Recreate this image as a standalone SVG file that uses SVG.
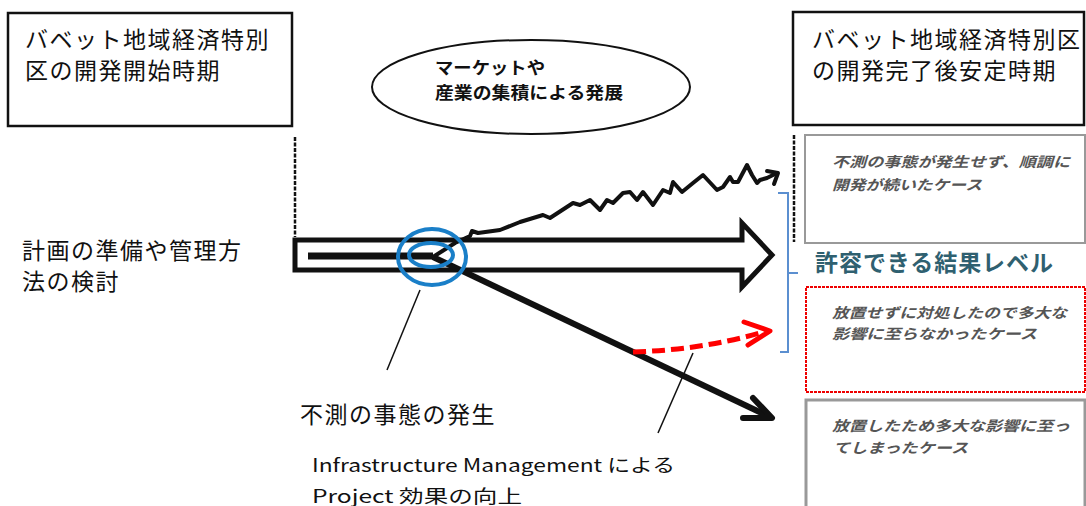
<svg xmlns="http://www.w3.org/2000/svg" width="1086" height="506" viewBox="0 0 1086 506">
<style>
.jp{font-family:"Noto Sans CJK JP","Liberation Sans",sans-serif;fill:#111}
.big{font-size:23px;letter-spacing:1.5px}
.case{font-family:"Noto Sans CJK JP","Liberation Sans",sans-serif;font-size:14px;font-weight:bold;font-style:italic;fill:#555}
.ell{font-family:"Noto Sans CJK JP","Liberation Sans",sans-serif;font-size:17px;font-weight:bold;fill:#111}
.thin{stroke:#111;stroke-width:1.5;fill:none}
</style>
<rect width="1086" height="506" fill="#fff"/>

<g id="start-box">
<rect x="8" y="13" width="284" height="113" fill="#fff" stroke="#111" stroke-width="2.5"/>
<text class="jp big" x="25" y="48">バベット地域経済特別</text>
<text class="jp big" x="25" y="79">区の開発開始時期</text>
</g>

<g id="end-box">
<rect x="793" y="12" width="291" height="113" fill="#fff" stroke="#111" stroke-width="2.5"/>
<text class="jp big" x="812" y="48">バベット地域経済特別区</text>
<text class="jp big" x="812" y="79">の開発完了後安定時期</text>
</g>

<g id="market-ellipse">
<ellipse cx="531" cy="87" rx="159" ry="47" fill="#fff" stroke="#111" stroke-width="2"/>
<text class="ell" x="435" y="74" textLength="110" lengthAdjust="spacingAndGlyphs">マーケットや</text>
<text class="ell" x="435" y="99" textLength="188" lengthAdjust="spacingAndGlyphs">産業の集積による発展</text>
</g>

<g id="plan-label">
<text class="jp big" x="22" y="259">計画の準備や管理方</text>
<text class="jp big" x="22" y="290">法の検討</text>
</g>

<g id="case-smooth">
<rect x="805" y="135" width="280" height="108" fill="#fff" stroke="#999" stroke-width="2"/>
<text class="case" x="832" y="167" textLength="238" lengthAdjust="spacingAndGlyphs">不測の事態が発生せず、順調に</text>
<text class="case" x="832" y="190" textLength="150" lengthAdjust="spacingAndGlyphs">開発が続いたケース</text>
</g>

<g id="acceptable-label">
<text x="815" y="271" font-family="Noto Sans CJK JP, Liberation Sans, sans-serif" font-size="23" font-weight="bold" fill="#2f6070" textLength="238" lengthAdjust="spacing">許容できる結果レベル</text>
</g>

<g id="case-handled">
<rect x="806" y="287" width="279" height="105" fill="#fff" stroke="#e00" stroke-width="2" stroke-dasharray="3,1"/>
<text class="case" x="832" y="318" textLength="235" lengthAdjust="spacingAndGlyphs">放置せずに対処したので多大な</text>
<text class="case" x="832" y="339" textLength="205" lengthAdjust="spacingAndGlyphs">影響に至らなかったケース</text>
</g>

<g id="case-neglected">
<rect x="806" y="400" width="279" height="110" fill="#fff" stroke="#999" stroke-width="3"/>
<text class="case" x="832" y="431" textLength="238" lengthAdjust="spacingAndGlyphs">放置したため多大な影響に至っ</text>
<text class="case" x="833" y="453" textLength="135" lengthAdjust="spacingAndGlyphs">てしまったケース</text>
</g>

<g id="event-label">
<text class="jp big" x="300" y="423" letter-spacing="2">不測の事態の発生</text>
</g>

<g id="im-label">
<text class="jp" x="312" y="472" font-size="18" textLength="363" lengthAdjust="spacingAndGlyphs">Infrastructure Management による</text>
<text class="jp" x="312" y="503" font-size="18" textLength="210" lengthAdjust="spacingAndGlyphs">Project 効果の向上</text>
</g>

<g id="connectors">
<line x1="295" y1="137" x2="295" y2="237" stroke="#111" stroke-width="2.5" stroke-dasharray="4,1.5"/>
<line x1="794" y1="135" x2="794" y2="242" stroke="#111" stroke-width="2.5" stroke-dasharray="4,1.5"/>
<polygon points="295,240 742,240 742,223 772,255 742,287 742,270 295,270" fill="#fff" stroke="#111" stroke-width="5" stroke-linejoin="miter"/>
<line x1="308" y1="256" x2="433" y2="256" stroke="#111" stroke-width="7"/>
<polyline fill="none" stroke="#111" stroke-width="4" stroke-linejoin="round" stroke-linecap="round" points="433,257 455,243 470,236 472,231 478,233 500,230 520,222 543,215 550,218 573,203 580,205 590,200 600,210 607,200 613,203 623,193 630,192 637,200 643,192 653,205 663,190 670,193 673,182 682,192 693,183 703,175 717,190 723,187 730,177 733,182 738,182 747,165 752,175 757,183 760,180 767,178 777,173"/>
<polyline fill="none" stroke="#111" stroke-width="4" stroke-linecap="round" stroke-linejoin="round" points="767,171 778,173 774,184"/>
<line x1="433" y1="257" x2="770" y2="417" stroke="#111" stroke-width="6"/>
<polyline fill="none" stroke="#111" stroke-width="6" stroke-linecap="round" stroke-linejoin="round" points="753,398 772,418 743,418"/>
<path d="M633,352 Q700,350 760,333" fill="none" stroke="#f00" stroke-width="5" stroke-dasharray="13,6"/>
<polyline fill="none" stroke="#f00" stroke-width="5" stroke-linecap="round" stroke-linejoin="round" points="744,322 770,331 748,345"/>
<ellipse cx="432" cy="257" rx="34" ry="28" fill="none" stroke="#1a7fc8" stroke-width="4"/>
<ellipse cx="431" cy="255" rx="22" ry="12" fill="none" stroke="#1a7fc8" stroke-width="4"/>
<path d="M778,193 H788 V352 H780 M788,273 H798" fill="none" stroke="#5b8fd0" stroke-width="2"/>
<line x1="420" y1="290" x2="387" y2="370" class="thin"/>
<line x1="693" y1="353" x2="658" y2="433" class="thin"/>
</g>
</svg>
